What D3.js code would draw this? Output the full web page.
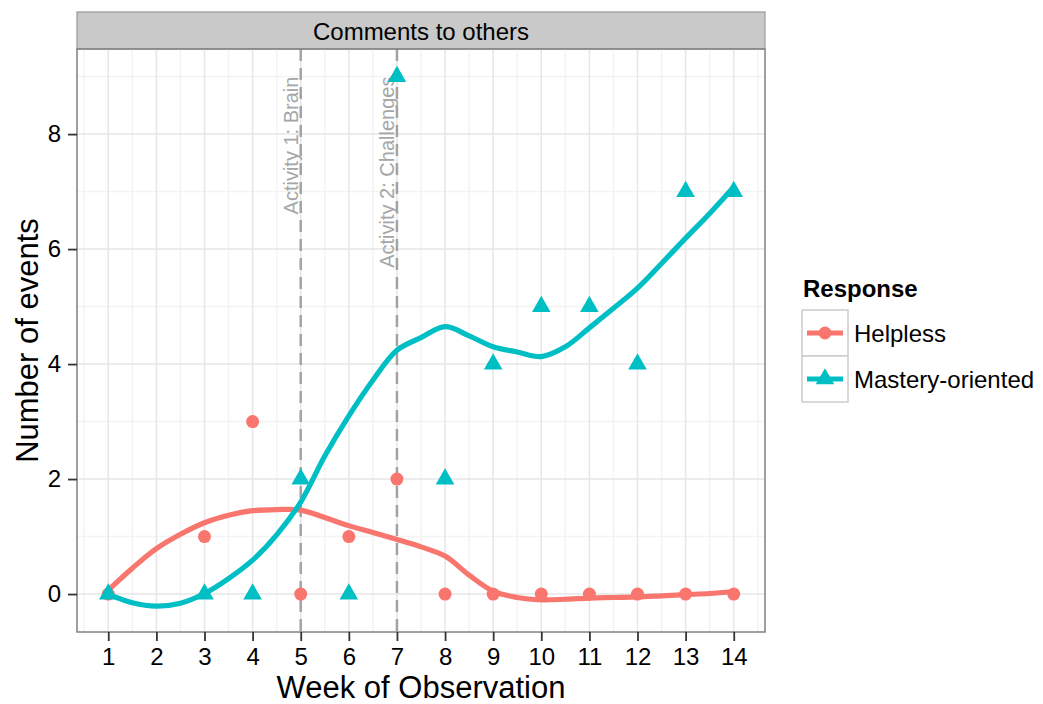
<!DOCTYPE html>
<html>
<head>
<meta charset="utf-8">
<script src="https://cdn.jsdelivr.net/npm/d3@7"></script>
<style>
  body { margin: 0; background: #fff; }
  text { font-family: "Liberation Sans", Arial, Helvetica, sans-serif; }
</style>
</head>
<body>
<div id="chart"></div>
<script>
// observed counts per week (no observation in week 2)
const weeks = [1, 3, 4, 5, 6, 7, 8, 9, 10, 11, 12, 13, 14];
const helpless = [0, 1, 3, 0, 1, 2, 0, 0, 0, 0, 0, 0, 0];
const mastery = [0, 0, 0, 2, 0, 9, 2, 4, 5, 5, 4, 7, 7];

// loess curves
const smooth_x = [1, 1.5, 2, 2.5, 3, 3.5, 4, 4.5, 5, 5.5, 6, 6.5, 7, 7.5, 8, 8.5, 9, 9.5, 10, 10.5, 11, 11.5, 12, 12.5, 13, 13.5, 14];
const helpless_smooth = [0.07, 0.45, 0.79, 1.04, 1.24, 1.37, 1.45, 1.47, 1.46, 1.33, 1.19, 1.07, 0.95, 0.82, 0.66, 0.33, 0.05, -0.06, -0.1, -0.09, -0.07, -0.06, -0.05, -0.03, -0.01, 0.01, 0.04];
const mastery_smooth = [0.0, -0.15, -0.21, -0.16, 0.01, 0.27, 0.59, 1.03, 1.6, 2.4, 3.1, 3.72, 4.24, 4.46, 4.65, 4.49, 4.3, 4.21, 4.13, 4.3, 4.63, 4.97, 5.32, 5.75, 6.19, 6.62, 7.08];

const x_ticks = [1, 2, 3, 4, 5, 6, 7, 8, 9, 10, 11, 12, 13, 14];
const y_ticks = [0, 2, 4, 6, 8];
const activity_weeks = [5, 7];
const activity_labels = ["Activity 1: Brain", "Activity 2: Challenges"];
const series_names = ["Helpless", "Mastery-oriented"];
const series_colors = ["#F8766D", "#00BFC4"];

const width = 1043, height = 704;
const panel = { left: 77, right: 765, top: 49, bottom: 632 };

const svg = d3.select("#chart").append("svg")
  .attr("width", width)
  .attr("height", height);

const x = d3.scaleLinear().domain([0.35, 14.65]).range([panel.left, panel.right]);
const y = d3.scaleLinear().domain([-0.66, 9.48]).range([panel.bottom, panel.top]);

// strip
svg.append("rect")
  .attr("x", panel.left).attr("y", 12)
  .attr("width", panel.right - panel.left).attr("height", panel.top - 12)
  .attr("fill", "#c9c9c9").attr("stroke", "#999").attr("stroke-width", 1.2);
svg.append("text")
  .attr("x", (panel.left + panel.right) / 2).attr("y", 31)
  .attr("text-anchor", "middle").attr("dominant-baseline", "central")
  .attr("font-size", 24).text("Comments to others");

// grid
let grid = svg.append("g");
let x_minor = d3.range(0.5, 15, 1).filter((v) => v > 0.35 && v < 14.65);
let y_minor = d3.range(-1, 10, 2).filter((v) => v > -0.66 && v < 9.48);
grid.selectAll(".xminor").data(x_minor).enter().append("line")
  .attr("x1", (d) => x(d)).attr("x2", (d) => x(d))
  .attr("y1", panel.top).attr("y2", panel.bottom)
  .attr("stroke", "#f3f3f3").attr("stroke-width", 1.5);
grid.selectAll(".yminor").data(y_minor).enter().append("line")
  .attr("y1", (d) => y(d)).attr("y2", (d) => y(d))
  .attr("x1", panel.left).attr("x2", panel.right)
  .attr("stroke", "#f3f3f3").attr("stroke-width", 1.5);
grid.selectAll(".xmajor").data(x_ticks).enter().append("line")
  .attr("x1", (d) => x(d)).attr("x2", (d) => x(d))
  .attr("y1", panel.top).attr("y2", panel.bottom)
  .attr("stroke", "#e6e6e6").attr("stroke-width", 1.5);
grid.selectAll(".ymajor").data(y_ticks).enter().append("line")
  .attr("y1", (d) => y(d)).attr("y2", (d) => y(d))
  .attr("x1", panel.left).attr("x2", panel.right)
  .attr("stroke", "#e6e6e6").attr("stroke-width", 1.5);

// activity markers
activity_weeks.forEach((w, i) => {
  svg.append("line")
    .attr("x1", x(w)).attr("x2", x(w))
    .attr("y1", panel.top).attr("y2", panel.bottom)
    .attr("stroke", "#a3a3a3").attr("stroke-width", 2.5)
    .attr("stroke-dasharray", "12,7");
  svg.append("text")
    .attr("transform", "translate(" + (x(w) - 3) + "," + y(9) + ") rotate(-90)")
    .attr("text-anchor", "end")
    .attr("font-size", 20).attr("fill", "#a6a6a6")
    .text(activity_labels[i]);
});

// smooth lines
let line = d3.line()
  .x((d) => x(d[0]))
  .y((d) => y(d[1]))
  .curve(d3.curveCatmullRom);
[helpless_smooth, mastery_smooth].forEach((vals, i) => {
  svg.append("path")
    .datum(smooth_x.map((xv, j) => [xv, vals[j]]))
    .attr("d", line)
    .attr("fill", "none")
    .attr("stroke", series_colors[i])
    .attr("stroke-width", 5.2)
    .attr("stroke-linejoin", "round");
});

// points
let triangle = d3.symbol().type(d3.symbolTriangle).size(150);
svg.selectAll(".pt-h").data(weeks).enter().append("circle")
  .attr("cx", (d) => x(d))
  .attr("cy", (d, i) => y(helpless[i]))
  .attr("r", 6.5)
  .attr("fill", series_colors[0]);
svg.selectAll(".pt-m").data(weeks).enter().append("path")
  .attr("d", triangle)
  .attr("transform", (d, i) => "translate(" + x(d) + "," + y(mastery[i]) + ")")
  .attr("fill", series_colors[1]);

// panel border
svg.append("rect")
  .attr("x", panel.left).attr("y", panel.top)
  .attr("width", panel.right - panel.left).attr("height", panel.bottom - panel.top)
  .attr("fill", "none").attr("stroke", "#808080").attr("stroke-width", 1.5);

// axes
let x_axis = svg.append("g")
  .attr("transform", "translate(0," + panel.bottom + ")")
  .call(d3.axisBottom(x).tickValues(x_ticks).tickSize(9).tickPadding(7));
let y_axis = svg.append("g")
  .attr("transform", "translate(" + panel.left + ",0)")
  .call(d3.axisLeft(y).tickValues(y_ticks).tickSize(9).tickPadding(7));
[x_axis, y_axis].forEach((ax) => {
  ax.select(".domain").remove();
  ax.selectAll(".tick line").attr("stroke", "#333").attr("stroke-width", 1.8);
  ax.selectAll(".tick text")
    .attr("font-size", 24).attr("fill", "#000")
    .attr("font-family", "'Liberation Sans', Arial, sans-serif");
});

svg.append("text")
  .attr("x", (panel.left + panel.right) / 2).attr("y", 698)
  .attr("text-anchor", "middle").attr("font-size", 31)
  .text("Week of Observation");
svg.append("text")
  .attr("transform", "translate(38," + (panel.top + panel.bottom) / 2 + ") rotate(-90)")
  .attr("text-anchor", "middle").attr("font-size", 31)
  .text("Number of events");

// legend
let legend = svg.append("g").attr("transform", "translate(802,310)");
legend.append("text")
  .attr("x", 1).attr("y", -13)
  .attr("font-size", 24).attr("font-weight", "bold")
  .text("Response");
series_names.forEach((name, i) => {
  let g = legend.append("g").attr("transform", "translate(0," + (i * 46) + ")");
  g.append("rect")
    .attr("width", 46).attr("height", 46)
    .attr("fill", "#fff").attr("stroke", "#cccccc").attr("stroke-width", 1.5);
  g.append("line")
    .attr("x1", 5).attr("x2", 41).attr("y1", 23).attr("y2", 23)
    .attr("stroke", series_colors[i]).attr("stroke-width", 5.2);
  if (i == 0) {
    g.append("circle").attr("cx", 23).attr("cy", 23).attr("r", 6.5)
      .attr("fill", series_colors[i]);
  } else {
    g.append("path").attr("d", triangle)
      .attr("transform", "translate(23,23)")
      .attr("fill", series_colors[i]);
  }
  g.append("text")
    .attr("x", 52).attr("y", 23)
    .attr("dominant-baseline", "central")
    .attr("font-size", 24)
    .text(name);
});
</script>
</body>
</html>
